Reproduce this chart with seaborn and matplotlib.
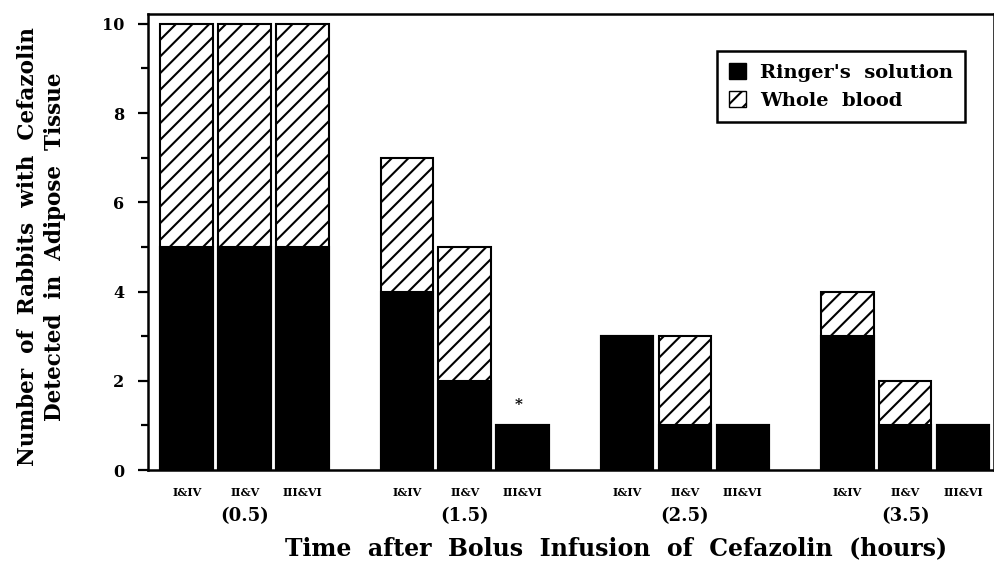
import pandas as pd
import numpy as np
import matplotlib.pyplot as plt
import seaborn as sns
from matplotlib.patches import Patch

groups = ['(0.5)', '(1.5)', '(2.5)', '(3.5)']
pairs = ['I&IV', 'II&V', 'III&VI']
ringer = [5, 5, 5, 4, 2, 1, 3, 1, 1, 3, 1, 1]
totalCount = [10, 10, 10, 7, 5, 1, 3, 3, 1, 4, 2, 1]

groupGap = 3.8
positions = [g * groupGap + k for g in range(len(groups)) for k in range(len(pairs))]

df = pd.DataFrame({
    'pos': positions,
    'pair': pairs * len(groups),
    'ringer': ringer,
    'total': totalCount,
})

sns.set_style('ticks')
plt.rcParams['font.family'] = ['DejaVu Serif', 'Liberation Serif']
plt.rcParams['font.weight'] = 'bold'
plt.rcParams['hatch.linewidth'] = 1.5
for key in ['text.color', 'axes.labelcolor', 'axes.edgecolor', 'xtick.color', 'ytick.color']:
    plt.rcParams[key] = 'black'

fig = plt.figure(figsize=(9.95, 5.62), dpi=100)
ax = fig.add_axes([0.1487, 0.1637, 0.85, 0.8113])

#whole blood on top of ringer
sns.barplot(data=df, x='pos', y='total', native_scale=True, width=0.91,
            color='white', edgecolor='black', linewidth=1.5, hatch='//',
            saturation=1, ax=ax)
sns.barplot(data=df, x='pos', y='ringer', native_scale=True, width=0.91,
            color='black', edgecolor='black', linewidth=1.5,
            saturation=1, ax=ax)

ax.set_xlim(-0.67, 13.93)
ax.set_ylim(0, 10.22)
ax.set_yticks(range(0, 11, 2))
ax.set_yticks(range(1, 11, 2), minor=True)
ax.tick_params(axis='y', which='major', length=7, width=1.6, labelsize=11.5, pad=10)
ax.tick_params(axis='y', which='minor', length=5, width=1.6)
ax.set_xticks(positions)
ax.set_xticklabels(df['pair'], fontsize=8, fontweight='bold')
ax.tick_params(axis='x', length=0, pad=12)

for sp in ax.spines.values():
    sp.set_linewidth(1.8)

for g, lab in enumerate(groups):
    ax.text(g * groupGap + 1, -0.1, lab, transform=ax.get_xaxis_transform(),
            ha='center', va='center', fontsize=13, fontweight='bold')

# asterisk over the III&VI bar at 1.5 h
ax.text(positions[5] - 0.07, 1.45, '*', ha='center', va='center',
        fontsize=11, fontweight='bold')

ax.set_xlabel('Time  after  Bolus  Infusion  of  Cefazolin  (hours)',
              fontsize=17, fontweight='bold')
ax.xaxis.set_label_coords(0.553, -0.171)
ax.xaxis.label.set_va('center')
ax.set_ylabel('Number  of  Rabbits  with  Cefazolin\nDetected  in  Adipose  Tissue',
              fontsize=15.5, fontweight='bold', linespacing=1.3)
ax.yaxis.set_label_coords(-0.126, 0.49)
ax.yaxis.label.set_va('center')

handles = [Patch(facecolor='black', edgecolor='black'),
           Patch(facecolor='white', edgecolor='black', hatch='//')]
leg = ax.legend(handles, ["Ringer's  solution", 'Whole  blood'],
                loc='upper right', bbox_to_anchor=(0.977, 0.94),
                prop={'size': 14, 'weight': 'bold'}, fancybox=False,
                edgecolor='black', framealpha=1, handlelength=0.9,
                handleheight=0.9, borderpad=0.6, labelspacing=0.5,
                handletextpad=0.7)
leg.get_frame().set_linewidth(1.8)

fig.savefig('out.png', dpi=100)
